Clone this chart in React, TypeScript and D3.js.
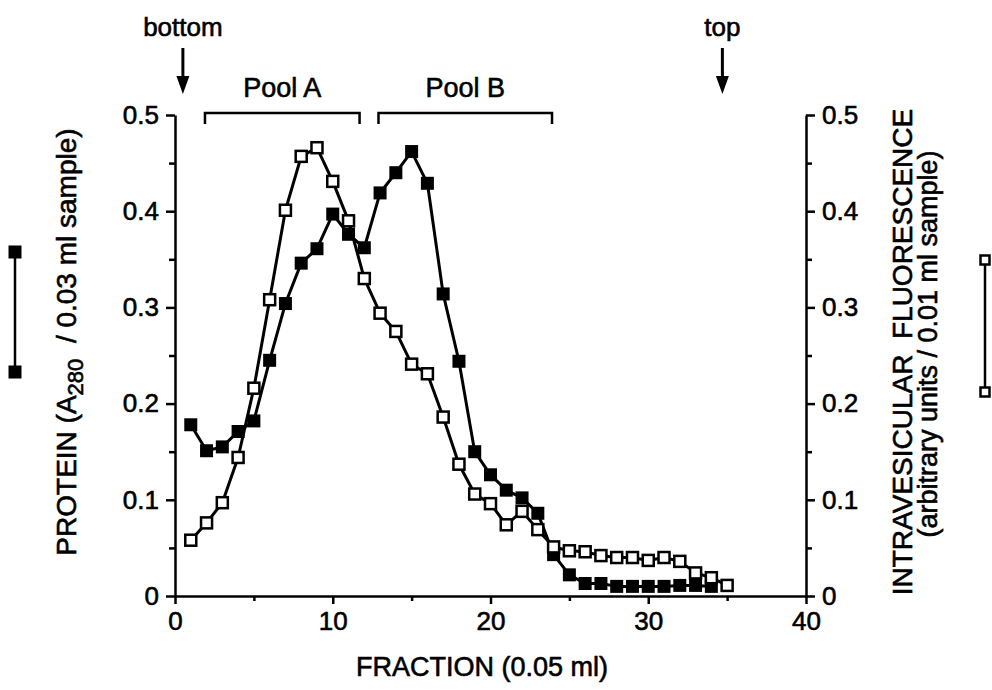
import React, { useRef, useEffect } from 'react';
import * as d3 from 'd3';

// fraction numbers (0.05 ml each)
const proteinFractions = [1, 2, 3, 4, 5, 6, 7, 8, 9, 10, 11, 12, 13, 14, 15, 16, 17, 18, 19, 20, 21, 22, 23, 24, 25, 26, 27, 28, 29, 30, 31, 32, 33, 34];
// A280 / 0.03 ml sample (filled squares, left axis)
const proteinValues = [0.178, 0.151, 0.155, 0.171, 0.182, 0.245, 0.304, 0.346, 0.361, 0.397, 0.376, 0.362, 0.419, 0.44, 0.462, 0.429, 0.314, 0.244, 0.15, 0.126, 0.11, 0.102, 0.086, 0.043, 0.022, 0.013, 0.013, 0.01, 0.01, 0.01, 0.01, 0.011, 0.011, 0.01];

const fluorFractions = [1, 2, 3, 4, 5, 6, 7, 8, 9, 10, 11, 12, 13, 14, 15, 16, 17, 18, 19, 20, 21, 22, 23, 24, 25, 26, 27, 28, 29, 30, 31, 32, 33, 34, 35];
// intravesicular fluorescence, arbitrary units / 0.01 ml (open squares, right axis)
const fluorValues = [0.058, 0.076, 0.097, 0.144, 0.216, 0.308, 0.401, 0.457, 0.466, 0.431, 0.39, 0.33, 0.294, 0.275, 0.241, 0.231, 0.186, 0.137, 0.106, 0.096, 0.074, 0.088, 0.069, 0.051, 0.047, 0.046, 0.042, 0.04, 0.04, 0.037, 0.04, 0.036, 0.024, 0.019, 0.011];

const xTicks = [0, 10, 20, 30, 40];
const xMinorTicks = [5, 15, 25, 35];
const yTicks = [0, 0.1, 0.2, 0.3, 0.4, 0.5];
const yMinorTicks = [0.05, 0.15, 0.25, 0.35, 0.45];
const yTickLabels = ['0', '0.1', '0.2', '0.3', '0.4', '0.5'];

const poolNames = ['Pool A', 'Pool B'];
const poolStarts = [1.9, 12.9];
const poolEnds = [11.7, 23.9];

const arrowNames = ['bottom', 'top'];
const arrowFractions = [0.5, 34.7];

const FONT = '"Liberation Sans", Arial, Helvetica, sans-serif';

const App: React.FC = () => {
  const svgRef = useRef<SVGSVGElement>(null);

  useEffect(() => {
    if (!svgRef.current) return;
    const svg = d3.select(svgRef.current);
    svg.selectAll('*').remove();

    const x = d3.scaleLinear().domain([0, 40]).range([175, 806]);
    const y = d3.scaleLinear().domain([0, 0.5]).range([596, 115]);

    // scanned figure: text looks slightly heavier than a plain regular face
    const g = svg.append('g')
      .attr('font-family', FONT)
      .attr('fill', '#000');

    const ink = (sel: any) => sel.attr('stroke', '#000').attr('stroke-width', 0.6);

    // axes
    const styleAxis = (sel: d3.Selection<SVGGElement, unknown, null, undefined>) => {
      sel.selectAll('path.domain').attr('stroke', '#000').attr('stroke-width', 2.5);
      sel.selectAll('.tick line').attr('stroke', '#000').attr('stroke-width', 2.5);
      ink(sel.selectAll('.tick text').attr('font-size', 26).attr('font-family', FONT).attr('fill', '#000'));
    };

    const left = g.append('g').attr('transform', `translate(${x(0)},0)`)
      .call(d3.axisLeft(y).tickValues(yTicks).tickSize(9).tickSizeOuter(0).tickPadding(7)
        .tickFormat((d, i) => yTickLabels[i]));
    styleAxis(left);
    const leftMinor = g.append('g').attr('transform', `translate(${x(0)},0)`)
      .call(d3.axisLeft(y).tickValues(yMinorTicks).tickSize(6).tickSizeOuter(0).tickFormat(() => ''));
    styleAxis(leftMinor);
    leftMinor.select('path.domain').remove();

    const right = g.append('g').attr('transform', `translate(${x(40)},0)`)
      .call(d3.axisRight(y).tickValues(yTicks).tickSize(9).tickSizeOuter(0).tickPadding(7)
        .tickFormat((d, i) => yTickLabels[i]));
    styleAxis(right);
    const rightMinor = g.append('g').attr('transform', `translate(${x(40)},0)`)
      .call(d3.axisRight(y).tickValues(yMinorTicks).tickSize(6).tickSizeOuter(0).tickFormat(() => ''));
    styleAxis(rightMinor);
    rightMinor.select('path.domain').remove();

    const bottom = g.append('g').attr('transform', `translate(0,${y(0)})`)
      .call(d3.axisBottom(x).tickValues(xTicks).tickSize(8).tickSizeOuter(0).tickPadding(8)
        .tickFormat(d3.format('d')));
    styleAxis(bottom);
    const bottomMinor = g.append('g').attr('transform', `translate(0,${y(0)})`)
      .call(d3.axisBottom(x).tickValues(xMinorTicks).tickSize(5).tickSizeOuter(0).tickFormat(() => ''));
    styleAxis(bottomMinor);
    bottomMinor.select('path.domain').remove();

    // axis titles
    ink(g.append('text')
      .attr('x', 482).attr('y', 676)
      .attr('text-anchor', 'middle').attr('font-size', 27)
      .text('FRACTION (0.05 ml)'));

    const yl = ink(g.append('text')
      .attr('transform', 'translate(76,342) rotate(-90)')
      .attr('text-anchor', 'middle').attr('font-size', 28)
      .attr('xml:space', 'preserve'));
    yl.append('tspan').text('PROTEIN (A');
    yl.append('tspan').attr('font-size', 22).attr('dy', 7).text('280');
    yl.append('tspan').attr('dy', -7).text('  / 0.03 ml sample)');

    ink(g.append('text')
      .attr('transform', 'translate(912,352) rotate(-90)')
      .attr('text-anchor', 'middle').attr('font-size', 28)
      .attr('xml:space', 'preserve')
      .text('INTRAVESICULAR  FLUORESCENCE'));
    ink(g.append('text')
      .attr('transform', 'translate(937,344) rotate(-90)')
      .attr('text-anchor', 'middle').attr('font-size', 27)
      .text('(arbitrary units / 0.01 ml sample)'));

    // pool brackets
    poolNames.forEach((name, i) => {
      const x0 = x(poolStarts[i]);
      const x1 = x(poolEnds[i]);
      g.append('path')
        .attr('d', `M${x0},124V113H${x1}V124`)
        .attr('fill', 'none').attr('stroke', '#000').attr('stroke-width', 2.5);
      ink(g.append('text')
        .attr('x', (x0 + x1) / 2).attr('y', 97)
        .attr('text-anchor', 'middle').attr('font-size', 27)
        .text(name));
    });

    // bottom / top arrows
    arrowNames.forEach((name, i) => {
      const ax = x(arrowFractions[i]);
      ink(g.append('text')
        .attr('x', ax).attr('y', 36)
        .attr('text-anchor', 'middle').attr('font-size', 26)
        .text(name));
      g.append('line')
        .attr('x1', ax).attr('x2', ax).attr('y1', 48).attr('y2', 80)
        .attr('stroke', '#000').attr('stroke-width', 3);
      g.append('path')
        .attr('d', `M${ax - 6.5},76L${ax + 6.5},76L${ax},94Z`)
        .attr('fill', '#000');
    });

    // series
    const line = d3.line<[number, number]>()
      .x(d => x(d[0]))
      .y(d => y(d[1]));

    const protein: [number, number][] = proteinFractions.map((f, i) => [f, proteinValues[i]]);
    const fluor: [number, number][] = fluorFractions.map((f, i) => [f, fluorValues[i]]);

    g.append('path').attr('d', line(protein) || '')
      .attr('fill', 'none').attr('stroke', '#000').attr('stroke-width', 3).attr('stroke-linejoin', 'round');
    g.append('path').attr('d', line(fluor) || '')
      .attr('fill', 'none').attr('stroke', '#000').attr('stroke-width', 3).attr('stroke-linejoin', 'round');

    const sq = 13;
    g.append('g').selectAll('rect').data(protein).join('rect')
      .attr('x', d => x(d[0]) - sq / 2).attr('y', d => y(d[1]) - sq / 2)
      .attr('width', sq).attr('height', sq)
      .attr('fill', '#000');

    const os = 11;
    g.append('g').selectAll('rect').data(fluor).join('rect')
      .attr('x', d => x(d[0]) - os / 2).attr('y', d => y(d[1]) - os / 2)
      .attr('width', os).attr('height', os)
      .attr('fill', '#fff').attr('stroke', '#000').attr('stroke-width', 2.5);

    // symbol keys beside the axis titles
    g.append('line').attr('x1', 15).attr('x2', 15).attr('y1', 252).attr('y2', 372)
      .attr('stroke', '#000').attr('stroke-width', 2.5);
    [252, 372].forEach(ky => {
      g.append('rect').attr('x', 15 - 6.5).attr('y', ky - 6.5).attr('width', 13).attr('height', 13).attr('fill', '#000');
    });
    g.append('line').attr('x1', 985).attr('x2', 985).attr('y1', 260).attr('y2', 392)
      .attr('stroke', '#000').attr('stroke-width', 2.5);
    [260, 392].forEach(ky => {
      g.append('rect').attr('x', 985 - 4.5).attr('y', ky - 4.5).attr('width', 9).attr('height', 9)
        .attr('fill', '#fff').attr('stroke', '#000').attr('stroke-width', 2.5);
    });
  }, []);

  return (
    <div style={{ position: 'absolute', left: 0, top: 0, width: 992, height: 690, background: '#fff' }}>
      <svg ref={svgRef} width={992} height={690} style={{ display: 'block' }} />
    </div>
  );
};

export default App;
